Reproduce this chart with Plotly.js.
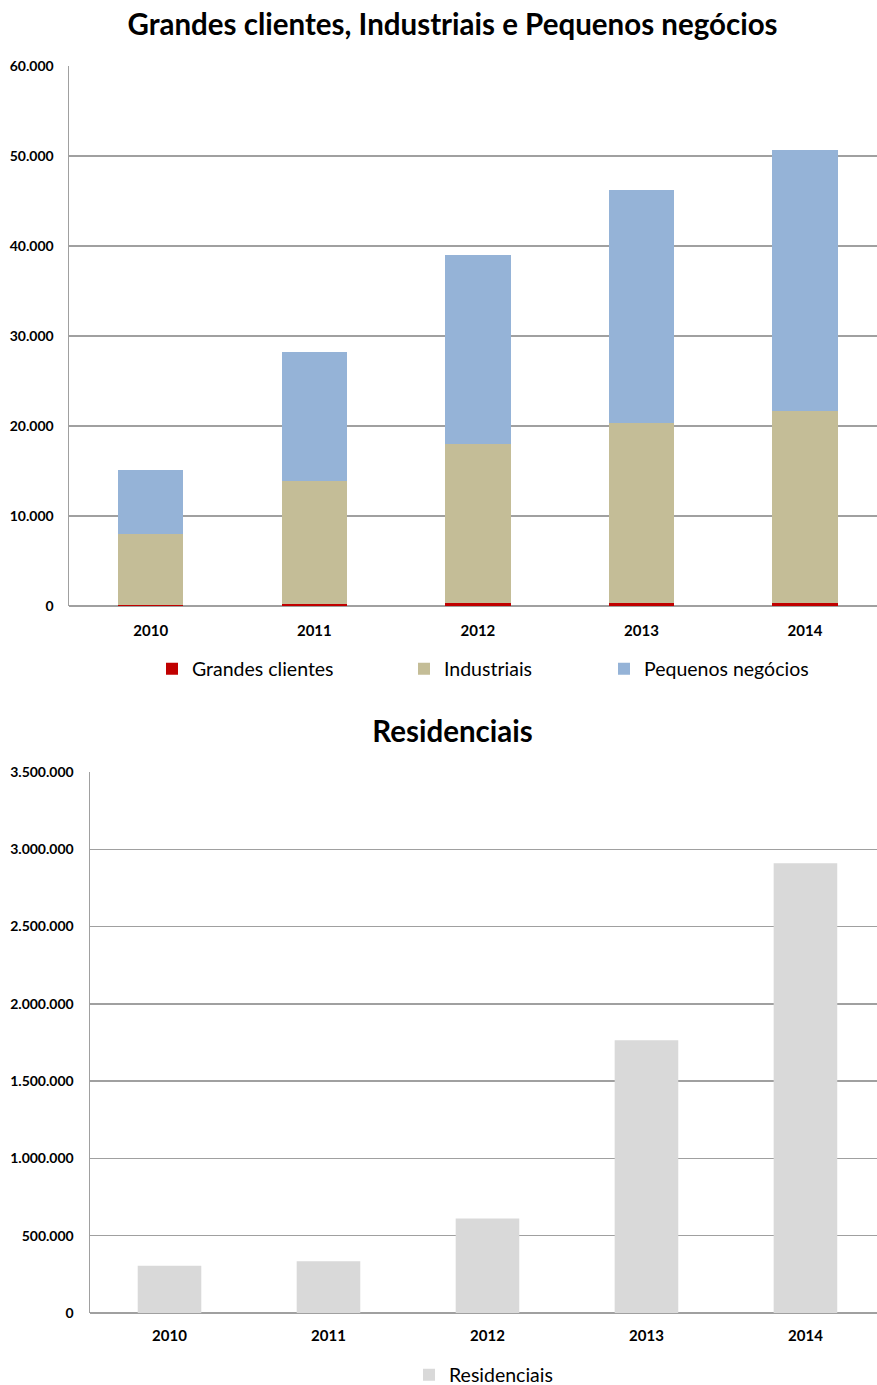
<!DOCTYPE html>
<html>
<head>
<meta charset="utf-8">
<script src="https://cdn.plot.ly/plotly-3.0.1.min.js"></script>
<style>
  html, body { margin: 0; padding: 0; background: #ffffff; overflow: hidden; }
  #top { width: 877px; height: 695px; }
  #bottom { width: 877px; height: 690px; }
</style>
</head>
<body>
<div id="top"></div>
<div id="bottom"></div>
<script>
// Years shown on both charts
const years = ['2010', '2011', '2012', '2013', '2014'];

// Customers by segment (stacked chart)
const grandesClientes = [120, 180, 280, 340, 360];
const industriais = [7880, 13720, 17690, 19990, 21310];
const pequenosNegocios = [7150, 14300, 21030, 25870, 29030];

// Residential customers
const residenciais = [306000, 334000, 612000, 1764000, 2909000];

// Axis ticks
const topTicks = [0, 10000, 20000, 30000, 40000, 50000, 60000];
const bottomTicks = [0, 500000, 1000000, 1500000, 2000000, 2500000, 3000000, 3500000];

const FONT = 'Lato, "Open Sans", sans-serif';
const LEGEND_FONT = {family: FONT, size: 19.5, color: '#000'};

function fmt(v) {
  return String(v).replace(/\B(?=(\d{3})+(?!\d))/g, '.');
}

function baseAxes(ticks, range, xStandoff, yStandoff) {
  return {
    xaxis: {
      type: 'category',
      range: range,
      showgrid: false,
      showline: false,
      zeroline: false,
      ticks: '',
      ticklabelstandoff: xStandoff,
      tickfont: {family: FONT, size: 15, color: '#000', weight: 'bold'},
      fixedrange: true
    },
    yaxis: {
      range: [0, ticks[ticks.length - 1]],
      tickvals: ticks,
      ticktext: ticks.map(fmt),
      showgrid: true,
      gridcolor: '#a0a0a0',
      gridwidth: 1.5,
      zeroline: true,
      zerolinecolor: '#a0a0a0',
      zerolinewidth: 1.5,
      showline: true,
      linecolor: '#a0a0a0',
      linewidth: 1.5,
      ticks: '',
      ticklabelstandoff: yStandoff,
      tickfont: {family: FONT, size: 14, color: '#000', weight: 'bold'},
      fixedrange: true
    }
  };
}

// One single-entry legend placed at a given left edge (px from the page's left)
function legendAt(leftPx, centerYFrac) {
  return {
    orientation: 'h',
    xref: 'container', x: leftPx / 877, xanchor: 'left',
    yref: 'container', y: centerYFrac, yanchor: 'middle',
    font: LEGEND_FONT,
    bgcolor: 'rgba(0,0,0,0)',
    itemclick: false
  };
}

const config = {displayModeBar: false, staticPlot: true};

// Stacked segment chart
const topTraces = [
  {type: 'bar', name: 'Grandes clientes', x: years, y: grandesClientes, marker: {color: '#C00000', line: {width: 0}}, legend: 'legend'},
  {type: 'bar', name: 'Industriais', x: years, y: industriais, marker: {color: '#C4BD97', line: {width: 0}}, legend: 'legend2'},
  {type: 'bar', name: 'Pequenos negócios', x: years, y: pequenosNegocios, marker: {color: '#95B3D7', line: {width: 0}}, legend: 'legend3'}
];

const topLegendY = 1 - 669 / 695;
const topLayout = Object.assign({
  width: 877,
  height: 695,
  margin: {l: 69, r: 0, t: 66, b: 89},
  paper_bgcolor: '#ffffff',
  plot_bgcolor: '#ffffff',
  barmode: 'stack',
  bargap: 0.6,
  title: {
    text: 'Grandes clientes, Industriais e Pequenos negócios',
    font: {family: FONT, size: 29.5, color: '#000', weight: 'bold'},
    x: 0.516, xanchor: 'center',
    y: 1 - 25 / 695, yanchor: 'middle', yref: 'container'
  },
  showlegend: true,
  legend: legendAt(152, topLegendY),
  legend2: legendAt(404, topLegendY),
  legend3: legendAt(604, topLegendY)
}, baseAxes(topTicks, [-0.5, 4.44], 14, 11));

Plotly.newPlot('top', topTraces, topLayout, config);

// Residential chart
const bottomTraces = [
  {type: 'bar', name: 'Residenciais', x: years, y: residenciais, marker: {color: '#D9D9D9', line: {width: 0}}, showlegend: true}
];

const bottomLayout = Object.assign({
  width: 877,
  height: 690,
  margin: {l: 90, r: 0, t: 77, b: 72},
  paper_bgcolor: '#ffffff',
  plot_bgcolor: '#ffffff',
  bargap: 0.6,
  title: {
    text: 'Residenciais',
    font: {family: FONT, size: 29.5, color: '#000', weight: 'bold'},
    x: 0.516, xanchor: 'center',
    y: 1 - 37 / 690, yanchor: 'middle', yref: 'container'
  },
  showlegend: true,
  legend: legendAt(409, 1 - 680 / 690)
}, baseAxes(bottomTicks, [-0.5, 4.45], 12, 12));

Plotly.newPlot('bottom', bottomTraces, bottomLayout, config);
</script>
</body>
</html>
